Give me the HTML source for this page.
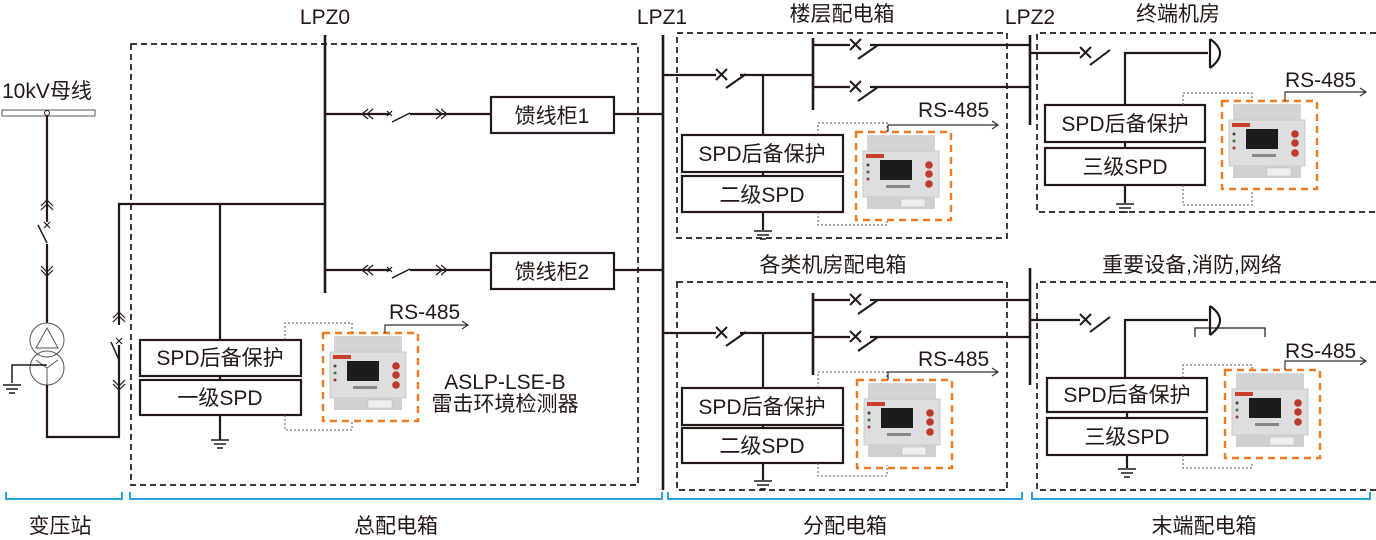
<!DOCTYPE html>
<html><head><meta charset="utf-8"><style>
html,body{margin:0;padding:0;background:#fff;}
svg{display:block;}
text{font-family:"Liberation Sans","Noto Sans CJK SC",sans-serif;fill:#231815;}
</style></head><body>
<svg width="1376" height="540" viewBox="0 0 1376 540" xmlns="http://www.w3.org/2000/svg">
<defs>
<g id="dev">
<rect x="0" y="0" width="95" height="88" fill="none" stroke="#ee7a22" stroke-width="2.4" stroke-dasharray="7,5"/>
<rect x="11" y="3" width="68" height="18" fill="#d4d4d4"/>
<rect x="7" y="19" width="76" height="46" fill="#dedede" stroke="#c8c8c8"/>
<rect x="10" y="22" width="18" height="4" fill="#c8402a"/>
<rect x="24" y="28" width="32" height="20" fill="#1c1c1c"/>
<circle cx="12" cy="33" r="1.5" fill="#444"/><circle cx="12" cy="40" r="1.5" fill="#3a7a3a"/><circle cx="12" cy="47" r="1.5" fill="#a33"/>
<rect x="30" y="53" width="24" height="3" fill="#888"/>
<circle cx="73" cy="33" r="3.8" fill="#c0392b"/><circle cx="73" cy="42" r="3.8" fill="#c0392b"/><circle cx="73" cy="52" r="3.8" fill="#c0392b"/>
<rect x="11" y="65" width="68" height="12" fill="#d0d0d0"/>
<rect x="45" y="67" width="24" height="8" fill="#eee" stroke="#bbb" stroke-width="0.5"/>
</g>
<g id="gnd" stroke="#231815" stroke-width="1.5">
<line x1="-9" y1="0" x2="9" y2="0"/><line x1="-6" y1="4" x2="6" y2="4"/><line x1="-3" y1="8" x2="3" y2="8"/>
</g>
</defs>

<g stroke="#231815" fill="none" stroke-width="2.2">
<g stroke-width="1.7" stroke-dasharray="6,4">
<rect x="131" y="44" width="507" height="441"/>
<rect x="677" y="33" width="330" height="205"/>
<rect x="677" y="282" width="330" height="208"/>
<path d="M1376 33 H1037 V212 H1376"/>
<path d="M1376 282 H1037 V490 H1376"/>
</g>

<rect x="2" y="110" width="93" height="6" stroke-width="1" stroke="#555"/>
<circle cx="47" cy="113" r="2.5" stroke-width="1" fill="#fff"/>
<line x1="47" y1="116" x2="47" y2="323"/>
<g stroke-width="1.2"><path d="M41 206 L47 200 L53 206 M41 210 L47 204 L53 210"/>
<path d="M41 266 L47 272 L53 266 M41 270 L47 276 L53 270"/></g>
<line x1="47" y1="222" x2="47" y2="244" stroke="#fff" stroke-width="4"/>
<path d="M38 225 L47 243" stroke-width="1.5"/>
<path d="M44 222 l6 6 m0 -6 l-6 6" stroke-width="1.2"/>
<g stroke-width="1" stroke="#555"><circle cx="47" cy="340" r="17"/><circle cx="47" cy="368" r="17"/>
<path d="M36 348 L47 328 L58 348 Z"/><path d="M47 368 L36 360 M47 368 L58 360 M47 368 L47 385"/></g>
<path d="M47 365 H12 V383" stroke-width="1.5"/>
<use href="#gnd" x="12" y="385"/>
<path d="M47 385 V437 H119 V204 H325" />
<line x1="119" y1="325" x2="119" y2="345" stroke="#fff" stroke-width="4"/>
<path d="M111 342 L119 360" stroke-width="1.5"/>
<path d="M116 338 l6 6 m0 -6 l-6 6" stroke-width="1.2"/>
<g stroke-width="1.2"><path d="M113 318 L119 312 L125 318 M113 322 L119 316 L125 322"/>
<path d="M113 380 L119 386 L125 380 M113 384 L119 390 L125 384"/></g>

<line x1="325" y1="35" x2="325" y2="293" stroke-width="2.6"/>
<line x1="220" y1="204" x2="220" y2="340"/>
<g>
<path d="M325 114 H390 M410 114 H491"/>
<path d="M392 122 L410 113" stroke-width="1.5"/>
<path d="M368 109 l-6 5 l6 5 M373 109 l-6 5 l6 5" stroke-width="1.2"/>
<path d="M436 109 l6 5 l-6 5 M441 109 l6 5 l-6 5" stroke-width="1.2"/>
<path d="M387 111 l5 5 m0 -5 l-5 5" stroke-width="1.2"/>
<path d="M325 270 H390 M410 270 H491"/>
<path d="M392 278 L410 269" stroke-width="1.5"/>
<path d="M368 265 l-6 5 l6 5 M373 265 l-6 5 l6 5" stroke-width="1.2"/>
<path d="M436 265 l6 5 l-6 5 M441 265 l6 5 l-6 5" stroke-width="1.2"/>
<path d="M387 267 l5 5 m0 -5 l-5 5" stroke-width="1.2"/>
<rect x="491" y="97" width="123" height="36"/>
<rect x="491" y="253" width="123" height="36"/>
<path d="M614 114 H663 M614 270 H663"/>
</g>
<rect x="140" y="340" width="161" height="36"/>
<rect x="140" y="380" width="161" height="35"/>
<line x1="220" y1="376" x2="220" y2="380"/>
<line x1="220" y1="415" x2="220" y2="440"/>

<line x1="663" y1="35" x2="663" y2="490" stroke-width="2.6"/>
<path d="M663 75 H716 M740 75 H813"/>
<path d="M726 88 L746 74" stroke-width="2"/>
<path d="M716 69 l11 11 m0 -11 l-11 11" stroke-width="2"/>
<line x1="763" y1="75" x2="763" y2="135"/>
<line x1="813" y1="38" x2="813" y2="110" stroke-width="2.6"/>
<path d="M813 45 H850 M870 45 H1030 M813 87 H850 M870 87 H1030"/>
<path d="M858 59 L878 45 M858 101 L878 87" stroke-width="2"/>
<path d="M850 39 l11 11 m0 -11 l-11 11 M850 81 l11 11 m0 -11 l-11 11" stroke-width="2"/>
<rect x="682" y="135" width="161" height="37"/>
<rect x="682" y="176" width="161" height="36"/>
<line x1="763" y1="172" x2="763" y2="176"/>
<line x1="763" y1="212" x2="763" y2="230"/>
<path d="M663 333 H716 M740 333 H813"/>
<path d="M726 346 L746 332" stroke-width="2"/>
<path d="M716 327 l11 11 m0 -11 l-11 11" stroke-width="2"/>
<line x1="763" y1="333" x2="763" y2="388"/>
<line x1="813" y1="293" x2="813" y2="375" stroke-width="2.6"/>
<path d="M813 300 H850 M870 300 H1030 M813 337 H850 M870 337 H1030"/>
<path d="M858 314 L878 300 M858 351 L878 337" stroke-width="2"/>
<path d="M850 294 l11 11 m0 -11 l-11 11 M850 331 l11 11 m0 -11 l-11 11" stroke-width="2"/>
<rect x="682" y="388" width="161" height="37"/>
<rect x="682" y="428" width="161" height="35"/>
<line x1="763" y1="425" x2="763" y2="428"/>
<line x1="763" y1="463" x2="763" y2="480"/>

<line x1="1030" y1="35" x2="1030" y2="125" stroke-width="2.6"/>
<line x1="1030" y1="268" x2="1030" y2="385" stroke-width="2.6"/>
<path d="M1030 53 H1080"/>
<path d="M1090 65 L1110 50" stroke-width="2"/>
<path d="M1080 47 l11 11 m0 -11 l-11 11" stroke-width="2"/>
<path d="M1125 105 V53 H1208"/>
<line x1="1210" y1="39" x2="1210" y2="68" stroke-width="2.2"/>
<path d="M1210 39 Q1230 53 1210 68" stroke-width="2.2"/>
<rect x="1045" y="105" width="160" height="37"/>
<rect x="1045" y="148" width="160" height="37"/>
<line x1="1125" y1="142" x2="1125" y2="148"/>
<line x1="1125" y1="185" x2="1125" y2="203"/>
<path d="M1030 320 H1080"/>
<path d="M1090 332 L1110 317" stroke-width="2"/>
<path d="M1080 314 l11 11 m0 -11 l-11 11" stroke-width="2"/>
<path d="M1125 378 V320 H1208"/>
<line x1="1210" y1="306" x2="1210" y2="335" stroke-width="2.2"/>
<path d="M1210 306 Q1230 320 1210 335" stroke-width="2.2"/>
<path d="M1195 337 V328 H1265 V337" stroke-width="1.2"/>
<rect x="1047" y="378" width="160" height="34"/>
<rect x="1047" y="418" width="160" height="37"/>
<line x1="1127" y1="412" x2="1127" y2="418"/>
<line x1="1127" y1="455" x2="1127" y2="468"/>
</g>

<use href="#gnd" x="220" y="440"/>
<use href="#gnd" x="763" y="231"/>
<use href="#gnd" x="763" y="481"/>
<use href="#gnd" x="1125" y="204"/>
<use href="#gnd" x="1127" y="469"/>

<g stroke="#555" stroke-width="1" fill="none" stroke-dasharray="2,2">
<path d="M285 340 V323 H352 V332 M285 415 V430 H352 V421"/>
<path d="M818 135 V123 H887 V132 M818 212 V225 H887 V220"/>
<path d="M818 388 V372 H887 V380 M818 463 V476 H887 V465"/>
<path d="M1183 105 V93 H1252 V100 M1183 185 V205 H1252 V190"/>
<path d="M1183 378 V365 H1252 V370 M1183 455 V468 H1252 V462"/>
</g>
<use href="#dev" x="323" y="333"/>
<use href="#dev" x="856" y="132"/>
<use href="#dev" x="857" y="380"/>
<use href="#dev" x="1222" y="101"/>
<use href="#dev" x="1225" y="370"/>
<g stroke="#333" stroke-width="1.2" fill="none">
<path d="M385 333 V325 H468 M462 321 L468 325 L462 329"/>
<path d="M888 132 V125 H998 M992 121 L998 125 L992 129"/>
<path d="M888 380 V372 H998 M992 368 L998 372 L992 376"/>
<path d="M1285 101 V92 H1366 M1360 88 L1366 92 L1360 96"/>
<path d="M1285 370 V361 H1366 M1360 357 L1366 361 L1360 365"/>
</g>

<g stroke="#2aa0dc" stroke-width="2" fill="none">
<path d="M6 492 V499 H122 V492"/>
<path d="M130 492 V499 H662 V492"/>
<path d="M668 492 V499 H1022 V492"/>
<path d="M1032 492 V499 H1370 V492"/>
</g>

<g font-size="21">
<text x="2" y="98">10kV母线</text>
<text x="325" y="24" text-anchor="middle">LPZ0</text>
<text x="662" y="24" text-anchor="middle">LPZ1</text>
<text x="1030" y="24" text-anchor="middle">LPZ2</text>
<text x="842" y="21" text-anchor="middle">楼层配电箱</text>
<text x="1178" y="21" text-anchor="middle">终端机房</text>
<text x="833" y="272" text-anchor="middle">各类机房配电箱</text>
<text x="1192" y="272" text-anchor="middle">重要设备,消防,网络</text>
<text x="552" y="123" text-anchor="middle">馈线柜1</text>
<text x="552" y="279" text-anchor="middle">馈线柜2</text>
<text x="220" y="365" text-anchor="middle">SPD后备保护</text>
<text x="220" y="405" text-anchor="middle">一级SPD</text>
<text x="762" y="161" text-anchor="middle">SPD后备保护</text>
<text x="762" y="202" text-anchor="middle">二级SPD</text>
<text x="762" y="414" text-anchor="middle">SPD后备保护</text>
<text x="762" y="453" text-anchor="middle">二级SPD</text>
<text x="1125" y="131" text-anchor="middle">SPD后备保护</text>
<text x="1125" y="174" text-anchor="middle">三级SPD</text>
<text x="1127" y="402" text-anchor="middle">SPD后备保护</text>
<text x="1127" y="444" text-anchor="middle">三级SPD</text>
<text x="389" y="319">RS-485</text>
<text x="918" y="117">RS-485</text>
<text x="918" y="366">RS-485</text>
<text x="1285" y="87">RS-485</text>
<text x="1285" y="358">RS-485</text>
<text x="505" y="389" text-anchor="middle">ASLP-LSE-B</text>
<text x="505" y="411" text-anchor="middle">雷击环境检测器</text>
<text x="60" y="533" text-anchor="middle">变压站</text>
<text x="396" y="533" text-anchor="middle">总配电箱</text>
<text x="845" y="533" text-anchor="middle">分配电箱</text>
<text x="1204" y="533" text-anchor="middle">末端配电箱</text>
</g>
</svg>
</body></html>
